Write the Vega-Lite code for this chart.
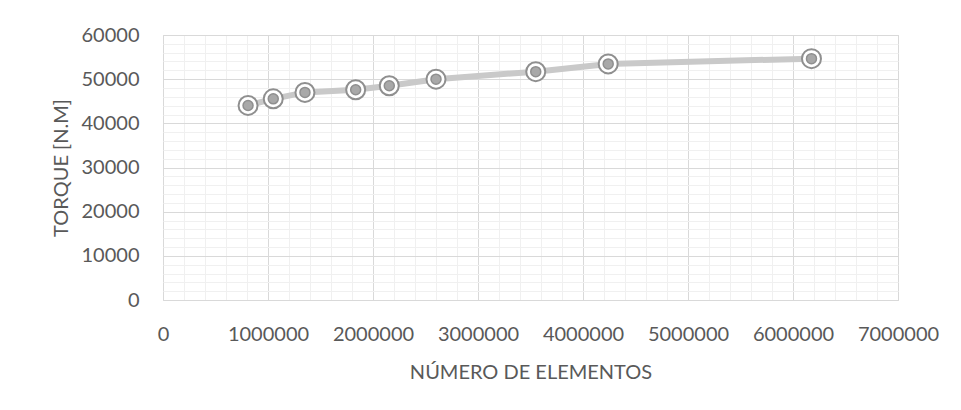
{
  "$schema": "https://vega.github.io/schema/vega-lite/v6.json",
  "width": 735,
  "height": 265,
  "autosize": {"type": "none"},
  "padding": {"left": 163, "top": 35, "right": 63, "bottom": 110},
  "background": "white",
  "config": {
    "view": {"stroke": "#d9d9d9", "strokeWidth": 1},
    "font": "Lato",
    "axis": {
      "labelFont": "Lato",
      "titleFont": "Lato",
      "labelFontSize": 20,
      "titleFontSize": 20,
      "labelColor": "#595959",
      "titleColor": "#595959",
      "titleFontWeight": "normal",
      "domain": false,
      "ticks": false,
      "labelOverlap": false,
      "labelFlush": false
    }
  },
  "data": {
    "values": [
      {"elementos": 810000, "torque": 44050},
      {"elementos": 1050000, "torque": 45550},
      {"elementos": 1352000, "torque": 47000},
      {"elementos": 1835000, "torque": 47600},
      {"elementos": 2155000, "torque": 48500},
      {"elementos": 2600000, "torque": 50000},
      {"elementos": 3550000, "torque": 51700},
      {"elementos": 4240000, "torque": 53450},
      {"elementos": 6176000, "torque": 54650}
    ]
  },
  "encoding": {
    "x": {
      "field": "elementos",
      "type": "quantitative",
      "scale": {"domain": [0, 7000000], "nice": false, "zero": true},
      "axis": {
        "title": "NÚMERO DE ELEMENTOS",
        "values": [0,200000,400000,600000,800000,1000000,1200000,1400000,1600000,1800000,2000000,2200000,2400000,2600000,2800000,3000000,3200000,3400000,3600000,3800000,4000000,4200000,4400000,4600000,4800000,5000000,5200000,5400000,5600000,5800000,6000000,6200000,6400000,6600000,6800000,7000000],
        "format": "d",
        "labelExpr": "datum.value % 1000000 === 0 ? datum.label : ''",
        "gridColor": {"condition": {"test": "datum.value % 1000000 === 0", "value": "#d9d9d9"}, "value": "#f0f0f0"},
        "gridWidth": 1,
        "labelPadding": 24,
        "titlePadding": 18
      }
    },
    "y": {
      "field": "torque",
      "type": "quantitative",
      "scale": {"domain": [0, 60000], "nice": false},
      "axis": {
        "title": "TORQUE [N.M]",
        "values": [0,2000,4000,6000,8000,10000,12000,14000,16000,18000,20000,22000,24000,26000,28000,30000,32000,34000,36000,38000,40000,42000,44000,46000,48000,50000,52000,54000,56000,58000,60000],
        "format": "d",
        "labelExpr": "datum.value % 10000 === 0 ? datum.label : ''",
        "gridColor": {"condition": {"test": "datum.value % 10000 === 0", "value": "#d9d9d9"}, "value": "#f0f0f0"},
        "gridWidth": 1,
        "labelPadding": 24,
        "titlePadding": 10
      }
    }
  },
  "layer": [
    {"mark": {"type": "line", "color": "#c9c9c9", "strokeWidth": 6}},
    {"mark": {"type": "point", "shape": "circle", "filled": false, "fill": "white", "fillOpacity": 1, "stroke": "#8f8f8f", "strokeWidth": 2, "size": 361, "opacity": 1}},
    {"mark": {"type": "point", "shape": "circle", "filled": true, "fill": "#a8a8a8", "stroke": "#8f8f8f", "strokeWidth": 1.5, "size": 100, "opacity": 1}}
  ]
}
